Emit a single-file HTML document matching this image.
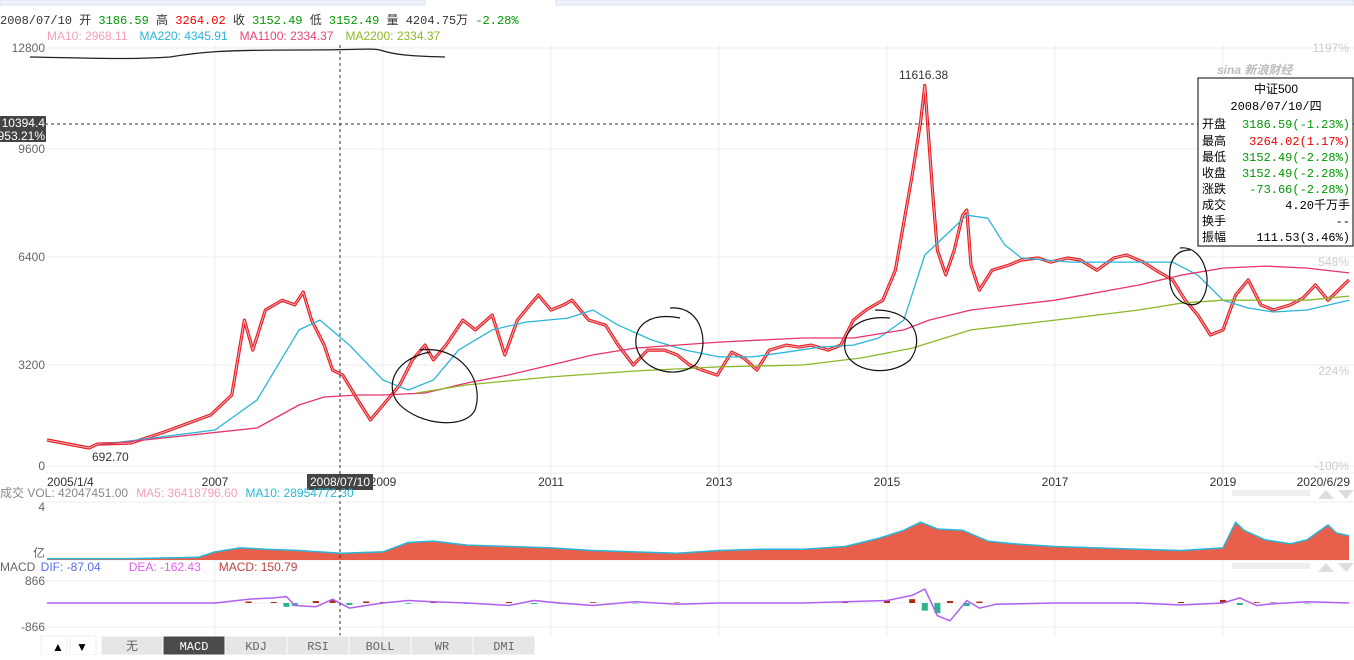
<!DOCTYPE html>
<html><head><meta charset="utf-8"><style>
body{margin:0;background:#fff;width:1354px;height:655px;overflow:hidden;font-family:"Liberation Sans","Noto Sans CJK SC",sans-serif;}
svg text{font-family:"Liberation Sans","Noto Sans CJK SC",sans-serif;font-size:12px;}
svg text.mono,svg .mono text{font-family:"Liberation Mono","Noto Sans CJK SC",monospace;}
</style></head><body>
<svg id="chart" width="1354" height="655" xmlns="http://www.w3.org/2000/svg">
<rect x="0" y="0" width="425" height="5" fill="#eef3fb" stroke="#d8e0ec"/>
<rect x="556" y="0" width="798" height="5" fill="#eef3fb" stroke="#d8e0ec"/>
<g id="grid"></g>
<text x="0" y="24" class="mono"><tspan fill="#333">2008/07/10 开 </tspan><tspan fill="#090">3186.59</tspan><tspan fill="#333"> 高 </tspan><tspan fill="#e00">3264.02</tspan><tspan fill="#333"> 收 </tspan><tspan fill="#090">3152.49</tspan><tspan fill="#333"> 低 </tspan><tspan fill="#090">3152.49</tspan><tspan fill="#333"> 量 </tspan><tspan fill="#333">4204.75万 </tspan><tspan fill="#090">-2.28%</tspan></text>
<text x="47" y="40"><tspan fill="#f4a0b8">MA10: 2968.11</tspan><tspan fill="#29b6d8" dx="12">MA220: 4345.91</tspan><tspan fill="#e8457a" dx="12">MA1100: 2334.37</tspan><tspan fill="#8db728" dx="12">MA2200: 2334.37</tspan></text>
<g id="axes"></g>
<g id="series"></g>
<path d="M30,57 C120,59 140,59 170,57 C200,52 220,50 300,50 C360,50 370,48 380,50 C395,55 410,56 445,57" fill="none" stroke="#222" stroke-width="1.3"/>
<g fill="none" stroke="#111" stroke-width="1.2">
<path d="M420,350 C460,345 485,380 475,410 C465,430 420,425 400,405 C385,390 390,360 430,352"/>
<path d="M670,308 C705,305 710,350 695,365 C675,380 640,370 636,345 C634,325 650,312 680,318"/>
<path d="M875,310 C915,310 925,340 910,360 C890,378 850,372 845,350 C842,330 860,315 890,318"/>
<path d="M1180,248 C1205,245 1215,285 1200,302 C1190,310 1170,300 1170,280 C1168,262 1175,250 1190,250"/>
</g>
<line x1="340" y1="45" x2="340" y2="636" stroke="#333" stroke-dasharray="3,3"/>
<line x1="45" y1="124" x2="1354" y2="124" stroke="#333" stroke-dasharray="3,3"/>
<rect x="0" y="116" width="46" height="26" fill="#444"/>
<text x="45" y="127" fill="#fff" text-anchor="end">10394.4</text>
<text x="45" y="140" fill="#fff" text-anchor="end">953.21%</text>
<rect x="307" y="474" width="66" height="16" fill="#444"/>
<text x="340" y="486" fill="#fff" text-anchor="middle">2008/07/10</text>
<text x="899" y="79" fill="#333">11616.38</text>
<text x="92" y="461" fill="#333">692.70</text>
<text x="1217" y="74" fill="#bbb" font-style="italic" font-weight="bold">sina 新浪财经</text>
<g>
<rect x="1198" y="78" width="155" height="168" fill="#fff" stroke="#000"/>
<text x="1276" y="93" text-anchor="middle" fill="#000">中证500</text>
<text x="1276" y="110" text-anchor="middle" fill="#000" class="mono">2008/07/10/四</text>
<g class="mono">
<text x="1202" y="128">开盘</text><text x="1350" y="128" text-anchor="end" fill="#090">3186.59(-1.23%)</text>
<text x="1202" y="145">最高</text><text x="1350" y="145" text-anchor="end" fill="#e00">3264.02(1.17%)</text>
<text x="1202" y="161">最低</text><text x="1350" y="161" text-anchor="end" fill="#090">3152.49(-2.28%)</text>
<text x="1202" y="177">收盘</text><text x="1350" y="177" text-anchor="end" fill="#090">3152.49(-2.28%)</text>
<text x="1202" y="193">涨跌</text><text x="1350" y="193" text-anchor="end" fill="#090">-73.66(-2.28%)</text>
<text x="1202" y="209">成交</text><text x="1350" y="209" text-anchor="end">4.20千万手</text>
<text x="1202" y="225">换手</text><text x="1350" y="225" text-anchor="end">--</text>
<text x="1202" y="241">振幅</text><text x="1350" y="241" text-anchor="end">111.53(3.46%)</text>
</g></g>
<text x="0" y="497" fill="#888" font-size="13">成交 <tspan fill="#888">VOL: 42047451.00</tspan><tspan fill="#f4a0b8" dx="8">MA5: 36418796.60</tspan><tspan fill="#29b6d8" dx="8">MA10: 28954772.30</tspan></text>
<text x="0" y="571" fill="#666" font-size="13">MACD <tspan fill="#5b6cf0" dx="2">DIF: -87.04</tspan><tspan fill="#e060f0" dx="28">DEA: -162.43</tspan><tspan fill="#c04040" dx="18">MACD: 150.79</tspan></text>
<text x="45" y="511" fill="#666" text-anchor="end">4</text>
<text x="45" y="557" fill="#666" text-anchor="end">亿</text>
<text x="45" y="585" fill="#666" text-anchor="end">866</text>
<text x="45" y="631" fill="#666" text-anchor="end">-866</text>
<g fill="#ddd">
<polygon points="1318,499 1326,490 1334,499"/><polygon points="1338,490 1354,490 1346,499"/>
<polygon points="1318,572 1326,563 1334,572"/><polygon points="1338,563 1354,563 1346,572"/>
<rect x="1232" y="490" width="78" height="6" fill="#eee"/><rect x="1232" y="563" width="78" height="6" fill="#eee"/>
</g>
<g>
<rect x="41" y="636" width="26" height="19" fill="#fff" stroke="#eee"/>
<text x="58" y="651" text-anchor="middle" fill="#000">▲</text>
<rect x="70" y="636" width="26" height="19" fill="#fff" stroke="#eee"/>
<text x="82" y="651" text-anchor="middle" fill="#000">▼</text>
</g>
<g id="tabs"></g>
</svg>
<script>
const priceDates=[2005.0,2005.5,2005.6,2006.0,2006.4,2006.95,2007.2,2007.35,2007.45,2007.6,2007.8,2007.95,2008.05,2008.15,2008.3,2008.4,2008.52,2008.7,2008.85,2009.0,2009.2,2009.35,2009.5,2009.6,2009.75,2009.95,2010.1,2010.3,2010.45,2010.6,2010.75,2010.85,2011.0,2011.15,2011.25,2011.45,2011.65,2011.8,2011.98,2012.15,2012.35,2012.5,2012.65,2012.8,2012.98,2013.15,2013.3,2013.45,2013.6,2013.8,2013.95,2014.1,2014.3,2014.45,2014.6,2014.75,2014.95,2015.1,2015.3,2015.4,2015.45,2015.55,2015.6,2015.7,2015.8,2015.9,2015.95,2016.0,2016.1,2016.25,2016.45,2016.6,2016.8,2016.95,2017.15,2017.3,2017.5,2017.7,2017.85,2018.05,2018.2,2018.4,2018.55,2018.7,2018.85,2019.0,2019.15,2019.3,2019.45,2019.6,2019.8,2019.95,2020.1,2020.25,2020.5];
const priceValues=[824,570,693,730,1080,1620,2250,4530,3640,4830,5120,4980,5360,4530,3790,3040,2880,2090,1460,1930,2570,3350,3790,3350,3790,4530,4240,4680,3500,4530,4980,5270,4830,4980,5120,4530,4380,3790,3200,3640,3640,3500,3200,3040,2880,3580,3400,3040,3640,3790,3730,3790,3640,3790,4530,4830,5120,6010,8830,10460,11616,8090,6600,5870,6600,7640,7790,6160,5420,6010,6160,6310,6370,6250,6370,6310,6010,6370,6460,6250,6010,5720,5120,4680,4090,4240,5270,5720,4980,4830,4980,5180,5570,5120,5720];
const ma220Dates=[2005.6,2007.0,2007.5,2008.0,2008.25,2008.6,2009.0,2009.3,2009.6,2009.9,2010.3,2010.7,2011.2,2011.5,2011.8,2012.2,2012.6,2013.0,2013.4,2013.8,2014.2,2014.6,2014.9,2015.2,2015.45,2015.7,2015.95,2016.2,2016.4,2016.6,2017.2,2017.6,2018.0,2018.4,2018.7,2019.0,2019.3,2019.6,2020.0,2020.5];
const ma220Values=[666,1141,2092,4240,4530,3790,2726,2409,2726,3640,4240,4470,4590,4830,4380,3940,3640,3440,3440,3580,3730,3790,4000,4530,6460,7050,7640,7550,6760,6370,6250,6250,6250,6250,5860,5120,4890,4770,4830,5120];
const ma1100Dates=[2005.6,2007.5,2008.0,2008.3,2008.7,2009.0,2009.5,2010.0,2010.5,2011.0,2011.5,2012.0,2013.0,2014.0,2014.6,2015.2,2015.5,2016.0,2017.0,2018.0,2018.5,2019.0,2019.5,2020.0,2020.5];
const ma1100Values=[666,1205,1934,2187,2250,2250,2314,2631,2885,3200,3500,3700,3880,4000,4000,4240,4530,4830,5120,5570,5860,6070,6130,6070,5930];
const ma2200Dates=[2009.4,2010.0,2011.0,2012.0,2013.0,2014.0,2014.7,2015.3,2016.0,2017.0,2018.0,2018.5,2019.0,2020.0,2020.5];
const ma2200Values=[2314,2568,2822,3010,3140,3200,3410,3700,4240,4530,4830,5030,5120,5120,5240];
const volDates=[2005.0,2006.0,2006.8,2007.0,2007.3,2007.6,2008.0,2008.5,2009.0,2009.3,2009.6,2010.0,2010.5,2011.0,2011.5,2012.0,2012.5,2013.0,2013.5,2014.0,2014.5,2014.9,2015.2,2015.4,2015.6,2015.9,2016.2,2016.5,2017.0,2017.5,2018.0,2018.5,2019.0,2019.15,2019.25,2019.5,2019.8,2020.0,2020.25,2020.35,2020.5];
const volValues=[0.1,0.1,0.2,0.6,0.9,0.8,0.7,0.5,0.6,1.3,1.4,1.1,1.0,0.9,0.7,0.6,0.5,0.7,0.8,0.8,1.0,1.6,2.2,2.8,2.3,2.2,1.4,1.2,1.0,0.9,0.8,0.7,0.9,2.8,2.2,1.5,1.2,1.5,2.6,2.0,1.8];
const macdDates=[2005.0,2007.0,2007.4,2007.7,2007.85,2007.95,2008.2,2008.4,2008.6,2008.8,2009.0,2009.3,2009.6,2010.0,2010.5,2010.8,2011.1,2011.5,2012.0,2012.5,2013.0,2014.0,2014.5,2015.0,2015.3,2015.45,2015.6,2015.75,2015.95,2016.1,2016.3,2017.0,2018.0,2018.5,2019.0,2019.2,2019.4,2019.6,2020.0,2020.5];
const difValues=[0,0,150,200,250,-100,-150,150,-200,-100,0,100,50,0,-100,100,0,-100,50,-50,0,0,50,100,300,550,-500,-700,100,-200,-50,0,0,-80,0,200,-100,-30,50,0];
const histValues=[0,0,60,40,-150,-120,80,100,-80,60,40,-30,30,-40,40,-40,-30,30,-20,20,0,20,30,100,150,-300,-400,80,-120,60,0,0,-40,40,120,-80,30,20,-20,0];
const yTicks=[0,3200,6400,9600,12800];
const yTickLabels=["0","3200","6400","9600","12800"];
const pctLabels=["-100%","224%","548%","","1197%"];
const xTickYears=[2007,2009,2011,2013,2015,2017,2019];
const tabLabels=["无","MACD","KDJ","RSI","BOLL","WR","DMI"];

const NS="http://www.w3.org/2000/svg";
const yPix=[466,365,257,149,48];
function X(t){return 47+(t-2005)*84;}
function Y(v){for(let i=0;i<yTicks.length-1;i++){if(v<=yTicks[i+1]||i==yTicks.length-2){return yPix[i]+(v-yTicks[i])/(yTicks[i+1]-yTicks[i])*(yPix[i+1]-yPix[i]);}}}
function VY(v){return 560-v*13.5;}
function MY(v){return 603-v*22/866;}
function mk(tag,attrs,parent){const e=document.createElementNS(NS,tag);for(const k in attrs)e.setAttribute(k,attrs[k]);parent.appendChild(e);return e;}
const grid=document.getElementById('grid'),axes=document.getElementById('axes'),S=document.getElementById('series');
[48,149,257,365,466,473,502,560,581,603,627].forEach(y=>{const l=mk('line',{x1:46,x2:1354,y1:y,y2:y,stroke:'#ececec'},grid);

});
xTickYears.forEach(yr=>{const l=mk('line',{x1:X(yr),x2:X(yr),y1:45,y2:636,stroke:'#ececec'},grid);


const t=mk('text',{x:X(yr),y:486,'text-anchor':'middle',fill:'#333'},axes);t.textContent=String(yr);

});
const t0=mk('text',{x:47,y:486,fill:'#333'},axes);t0.textContent='2005/1/4';


const t1=mk('text',{x:1350,y:486,fill:'#333','text-anchor':'end'},axes);t1.textContent='2020/6/29';


yTicks.forEach((v,i)=>{const t=mk('text',{x:45,y:Y(v)+4,'text-anchor':'end',fill:'#666'},axes);t.textContent=yTickLabels[i];


if(pctLabels[i]){const p=mk('text',{x:1349,y:Y(v)+(i==2?9:i==1?10:4),'text-anchor':'end',fill:'#ccc'},axes);p.textContent=pctLabels[i];

}});
function line(dates,vals,fy,color,w,name){const d=dates.map((t,i)=>(i?'L':'M')+X(t).toFixed(1)+','+fy(vals[i]).toFixed(1)).join('');const p=mk('path',{d:d,fill:'none',stroke:color,'stroke-width':w,'stroke-linejoin':'round'},S);

return p;}
let vd='M'+X(volDates[0])+',560 '+volDates.map((t,i)=>'L'+X(t).toFixed(1)+','+VY(volValues[i]).toFixed(1)).join(' ')+' L'+X(volDates[volDates.length-1])+',560Z';
const va=mk('path',{d:vd,fill:'#e8604c'},S);


line(volDates,volValues,VY,'#29b6d8',1.5,'volume-ma10-line');
macdDates.forEach((t,i)=>{const h=histValues[i];const y0=MY(0),y1=MY(h);const r=mk('rect',{x:X(t)-3,y:Math.min(y0,y1),width:6,height:Math.abs(y1-y0),fill:h>=0?'#b22a10':'#2bb58f'},S);

});
line(macdDates,difValues,MY,'#b060f0',1.5,'macd-dif-line');
line(priceDates,priceValues,Y,'#e81c1c',3.2,'price-candles');
line(priceDates,priceValues,Y,'#1a9a1a',1,'price-candles-green').setAttribute('stroke-dasharray','2,5');
line(priceDates,priceValues,Y,'#f7a8be',1,'ma10-line');
line(ma220Dates,ma220Values,Y,'#29b6d8',1.3,'ma220-line');
line(ma1100Dates,ma1100Values,Y,'#e8336b',1.3,'ma1100-line');
line(ma2200Dates,ma2200Values,Y,'#8db728',1.3,'ma2200-line');
const tabs=document.getElementById('tabs');
tabLabels.forEach((lb,i)=>{const x=101+i*62;const r=mk('rect',{x:x,y:636,width:62,height:19,fill:i==1?'#4a4a4a':'#e6e6e6',stroke:'#fff'},tabs);


const t=mk('text',{x:x+31,y:650,'text-anchor':'middle',fill:i==1?'#fff':'#666',class:'mono'},tabs);t.textContent=lb;});
</script>
</body></html>
